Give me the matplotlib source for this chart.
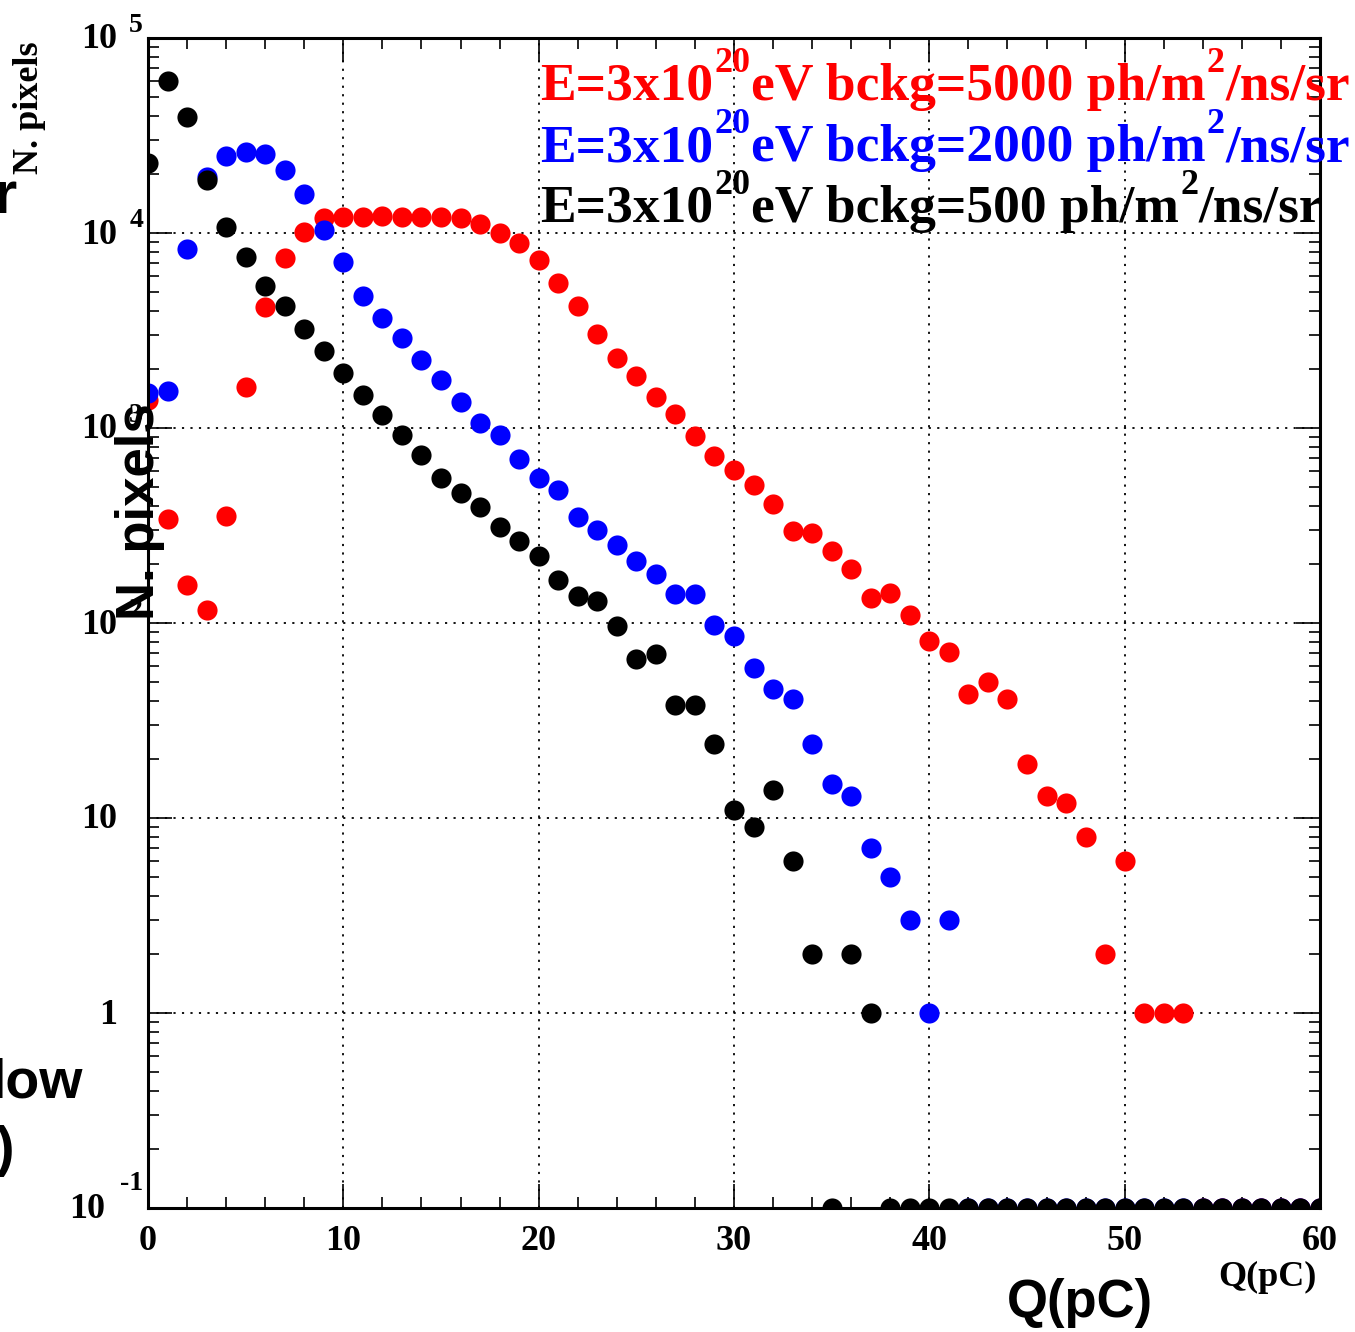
import numpy as np
import matplotlib
matplotlib.use("Agg")
import matplotlib.pyplot as plt
import matplotlib.transforms as mtransforms
from matplotlib.ticker import MultipleLocator, LogLocator, NullFormatter

# charge bins (pC)
q = np.arange(0, 61)

# N. pixels per bin, bckg = 5000 ph/m2/ns/sr
n_5000 = [1400, 341, 157, 117, 354, 1620, 4180, 7450, 10100, 11900,
          12100, 12100, 12200, 12100, 12100, 12100, 11900, 11100, 10000, 8890,
          7270, 5540, 4220, 3030, 2290, 1850, 1440, 1180, 910, 718,
          609, 510, 408, 297, 290, 234, 189, 134, 143, 110,
          81, 71, 43, 50, 41, 19, 13, 12, 8, 2,
          6, 1, 1, 1, 0, 0, 0, 0, 0, 0,
          0]
# bckg = 2000
n_2000 = [1510, 1550, 8280, 19400, 24800, 26000, 25400, 21000, 15800, 10400,
          7100, 4750, 3670, 2900, 2230, 1760, 1360, 1060, 920, 693,
          554, 481, 350, 300, 251, 208, 178, 141, 141, 98,
          86, 59, 46, 41, 24, 15, 13, 7, 5, 3,
          1, 3, 0, 0, 0, 0, 0, 0, 0, 0,
          0, 0, 0, 0, 0, 0, 0, 0, 0, 0,
          0]
# bckg = 500
n_500 = [22900, 60100, 39300, 18700, 10700, 7540, 5350, 4220, 3220, 2480,
         1910, 1480, 1170, 920, 727, 554, 465, 394, 311, 263,
         221, 166, 138, 130, 97, 65, 69, 38, 38, 24,
         11, 9, 14, 6, 2, 0, 2, 1, 0, 0,
         0, 0, 0, 0, 0, 0, 0, 0, 0, 0,
         0, 0, 0, 0, 0, 0, 0, 0, 0, 0,
         0]

bckg = ['5000', '2000', '500']
colors = ['#ff0000', '#0000ff', '#000000']

ytick_vals = [0.1, 1, 10, 100, 1e3, 1e4, 1e5]
ytick_base = ['10', '1', '10', '10', '10', '10', '10']
ytick_exp = ['-1', '', '', '2', '3', '4', '5']

ymin, ymax = 0.1, 1e5
serif = dict(family='Liberation Serif', weight='bold')
sans = dict(family='Liberation Sans', weight='bold')

W, H = 1355, 1332
fig = plt.figure(figsize=(W / 100, H / 100), dpi=100)
ax = fig.add_axes([148 / W, 1 - 1208 / H, (1320 - 148) / W, (1208 - 38) / H])

for vals, c in zip([n_5000, n_2000, n_500], colors):
    v = np.array(vals, dtype=float)
    v = np.where(v > 0, v, ymin)   # empty bins sit on the axis floor
    ax.plot(q, v, 'o', color=c, markersize=14.5, markeredgewidth=0)

ax.set_yscale('log')
ax.set_xlim(0, 60)
ax.set_ylim(ymin, ymax)

ax.set_axisbelow(True)
ax.grid(True, which='major', color='black', linestyle=(0, (1.2, 3.5)), linewidth=1.3)

for s in ax.spines.values():
    s.set_linewidth(2.2)

ax.xaxis.set_major_locator(MultipleLocator(10))
ax.xaxis.set_minor_locator(MultipleLocator(2))
ax.set_yticks(ytick_vals)
ax.yaxis.set_minor_locator(LogLocator(base=10, subs=np.arange(2, 10)))
ax.yaxis.set_minor_formatter(NullFormatter())
ax.set_yticklabels([''] * len(ytick_vals))
ax.tick_params(which='both', direction='in', top=True, right=True, width=1.2)
ax.tick_params(which='major', length=17)
ax.tick_params(which='minor', length=8)
ax.tick_params(axis='x', pad=12, labelsize=26)
for lab in ax.get_xticklabels():
    lab.set_fontfamily('Liberation Serif')
    lab.set_fontweight('bold')

# ROOT style y labels: "10" with a raised exponent
ytr = ax.get_yaxis_transform()
for v, base, ex in zip(ytick_vals, ytick_base, ytick_exp):
    off = 43 if len(ex) > 1 else 31
    t = ytr + mtransforms.ScaledTranslation(-off / 100, -0.02, fig.dpi_scale_trans)
    ax.text(0, v, base, transform=t, ha='right', va='center', fontsize=26, **serif)
    if ex:
        dy = 18 if ex.startswith('-') else 6
        t2 = ytr + mtransforms.ScaledTranslation(-5 / 100, dy / 100, fig.dpi_scale_trans)
        ax.text(0, v, ex, transform=t2, ha='right', va='baseline', fontsize=20, **serif)

# captions, built piece by piece so the superscripts sit high like in ROOT
for i, (b, c) in enumerate(zip(bckg, colors)):
    y_px = H - (100 + 61 * i)
    pieces = [('E=3x10', False), ('20', True), ('eV bckg=' + b + ' ph/m', False),
              ('2', True), ('/ns/sr', False)]
    prev = fig.text(540 / W, y_px / H, pieces[0][0], color=c, fontsize=38.5,
                    ha='left', va='baseline', **serif)
    for txt, sup in pieces[1:]:
        prev = ax.annotate(txt, xy=(1, y_px), xycoords=(prev, 'figure pixels'),
                           xytext=(1, 28 if sup else 0), textcoords='offset pixels',
                           color=c, fontsize=26 if sup else 38.5,
                           ha='left', va='baseline', **serif)

# leftover titles from the canvas
fig.text(30 / W, 1 - 108 / H, 'N. pixels', rotation=90, ha='center', va='center',
         fontsize=26, **serif)
fig.text(1267 / W, 1 - 1277 / H, 'Q(pC)', ha='center', va='center', fontsize=26, **serif)
fig.text(140 / W, 1 - 512 / H, 'N. pixels', rotation=90, ha='center', va='center',
         fontsize=38, **sans)
fig.text(1080 / W, 1 - 1303 / H, 'Q(pC)', ha='center', va='center', fontsize=38, **sans)
fig.text(17 / W, 1 - 213 / H, 'r', ha='right', va='baseline', fontsize=43, **sans)
fig.text(83 / W, 1 - 1097 / H, 'low', ha='right', va='baseline', fontsize=40, **sans)
fig.text(14 / W, 1 - 1165 / H, ')', ha='right', va='baseline', fontsize=40, **sans)

fig.savefig('out.png', dpi=100)
